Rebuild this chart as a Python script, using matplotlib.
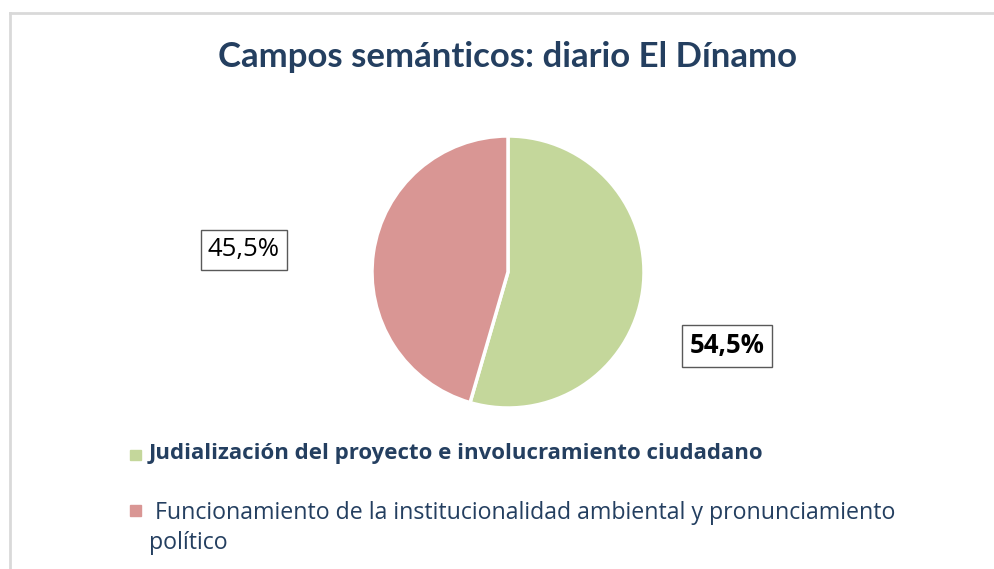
import matplotlib
matplotlib.use("Agg")
import matplotlib.pyplot as plt
from matplotlib.patches import Rectangle
from matplotlib.lines import Line2D

# Data
categories = ["Judialización del proyecto e involucramiento ciudadano",
              "Funcionamiento de la institucionalidad ambiental y pronunciamiento\npolítico"]
values = [54.5, 45.5]
colors = ["#C4D79B", "#D99694"]
title = "Campos semánticos: diario El Dínamo"

W, H = 995, 569
plt.rcParams['font.family'] = ['Open Sans', 'DejaVu Sans']
text_color = "#243F60"

fig = plt.figure(figsize=(W / 100, H / 100), dpi=100)


def fx(px):
    return px / W


def fy(py):
    return 1 - py / H


# outer frame (cut off at right and bottom)
frame = dict(transform=fig.transFigure, color="#D9D9D9", linewidth=2)
fig.add_artist(Line2D([fx(10), fx(W + 5)], [fy(13), fy(13)], **frame))
fig.add_artist(Line2D([fx(10), fx(10)], [fy(13), fy(H + 5)], **frame))

# pie
cx, cy, r = 508, 272, 136
ax = fig.add_axes([fx(cx - r), fy(cy + r), 2 * r / W, 2 * r / H])
ax.pie(values, colors=colors, startangle=90, counterclock=False,
       wedgeprops=dict(edgecolor="white", linewidth=2.5), radius=1)
ax.set_xlim(-1, 1)
ax.set_ylim(-1, 1)
ax.axis("off")

fig.text(fx(508), fy(57), title, ha="center", va="center", fontsize=25,
         fontweight="bold", color=text_color, family=['Lato', 'DejaVu Sans'])

# data labels
fig.text(fx(244), fy(250), f"{values[1]:.1f}%".replace(".", ","), ha="center",
         va="center", fontsize=18.5, color="black",
         bbox=dict(boxstyle="square,pad=0.28", fc="white", ec="#595959", lw=1))
fig.text(fx(727), fy(346), f"{values[0]:.1f}%".replace(".", ","), ha="center",
         va="center", fontsize=18.5, fontweight="bold", color="black",
         bbox=dict(boxstyle="square,pad=0.28", fc="white", ec="#595959", lw=1))

# legend
fig.add_artist(Rectangle((fx(130), fy(460)), 11 / W, 10 / H,
                         transform=fig.transFigure, color=colors[0]))
fig.text(fx(149), fy(454), categories[0], ha="left", va="center",
         fontsize=16, fontweight="bold", color=text_color)
fig.add_artist(Rectangle((fx(130), fy(516)), 11 / W, 11 / H,
                         transform=fig.transFigure, color=colors[1]))
fig.text(fx(149), fy(513), " " + categories[1].split("\n")[0], ha="left",
         va="center", fontsize=16.7, color=text_color)
fig.text(fx(149), fy(543), categories[1].split("\n")[1], ha="left",
         va="center", fontsize=16.7, color=text_color)

fig.savefig("out.png", dpi=100)
